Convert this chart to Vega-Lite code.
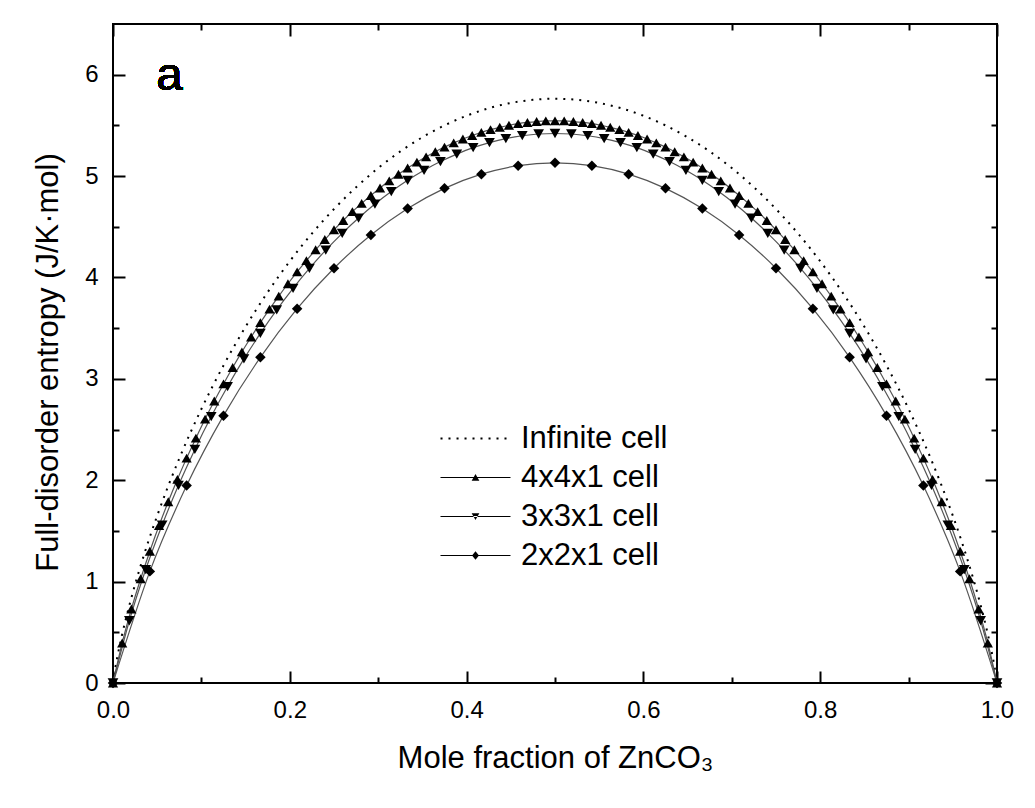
{
  "$schema": "https://vega.github.io/schema/vega-lite/v6.json",
  "width": 884,
  "height": 659,
  "autosize": {"type": "none"},
  "padding": {"left": 113, "top": 24, "right": 38, "bottom": 125},
  "background": "white",
  "config": {"view": {"stroke": "#000", "strokeWidth": 2}, "font": "Liberation Sans"},
  "datasets": {
    "entropy": [
      {"series": "Infinite cell", "x": 0, "y": 0},
      {"series": "Infinite cell", "x": 0.0025, "y": 0.145},
      {"series": "Infinite cell", "x": 0.005, "y": 0.262},
      {"series": "Infinite cell", "x": 0.01, "y": 0.466},
      {"series": "Infinite cell", "x": 0.02, "y": 0.815},
      {"series": "Infinite cell", "x": 0.03, "y": 1.121},
      {"series": "Infinite cell", "x": 0.04, "y": 1.397},
      {"series": "Infinite cell", "x": 0.05, "y": 1.65},
      {"series": "Infinite cell", "x": 0.075, "y": 2.215},
      {"series": "Infinite cell", "x": 0.1, "y": 2.703},
      {"series": "Infinite cell", "x": 0.125, "y": 3.132},
      {"series": "Infinite cell", "x": 0.15, "y": 3.514},
      {"series": "Infinite cell", "x": 0.175, "y": 3.855},
      {"series": "Infinite cell", "x": 0.2, "y": 4.16},
      {"series": "Infinite cell", "x": 0.225, "y": 4.433},
      {"series": "Infinite cell", "x": 0.25, "y": 4.675},
      {"series": "Infinite cell", "x": 0.275, "y": 4.89},
      {"series": "Infinite cell", "x": 0.3, "y": 5.079},
      {"series": "Infinite cell", "x": 0.325, "y": 5.243},
      {"series": "Infinite cell", "x": 0.35, "y": 5.383},
      {"series": "Infinite cell", "x": 0.375, "y": 5.5},
      {"series": "Infinite cell", "x": 0.4, "y": 5.595},
      {"series": "Infinite cell", "x": 0.425, "y": 5.669},
      {"series": "Infinite cell", "x": 0.45, "y": 5.721},
      {"series": "Infinite cell", "x": 0.475, "y": 5.752},
      {"series": "Infinite cell", "x": 0.5, "y": 5.763},
      {"series": "Infinite cell", "x": 0.525, "y": 5.752},
      {"series": "Infinite cell", "x": 0.55, "y": 5.721},
      {"series": "Infinite cell", "x": 0.575, "y": 5.669},
      {"series": "Infinite cell", "x": 0.6, "y": 5.595},
      {"series": "Infinite cell", "x": 0.625, "y": 5.5},
      {"series": "Infinite cell", "x": 0.65, "y": 5.383},
      {"series": "Infinite cell", "x": 0.675, "y": 5.243},
      {"series": "Infinite cell", "x": 0.7, "y": 5.079},
      {"series": "Infinite cell", "x": 0.725, "y": 4.89},
      {"series": "Infinite cell", "x": 0.75, "y": 4.675},
      {"series": "Infinite cell", "x": 0.775, "y": 4.433},
      {"series": "Infinite cell", "x": 0.8, "y": 4.16},
      {"series": "Infinite cell", "x": 0.825, "y": 3.855},
      {"series": "Infinite cell", "x": 0.85, "y": 3.514},
      {"series": "Infinite cell", "x": 0.875, "y": 3.132},
      {"series": "Infinite cell", "x": 0.9, "y": 2.703},
      {"series": "Infinite cell", "x": 0.925, "y": 2.215},
      {"series": "Infinite cell", "x": 0.95, "y": 1.65},
      {"series": "Infinite cell", "x": 0.96, "y": 1.397},
      {"series": "Infinite cell", "x": 0.97, "y": 1.121},
      {"series": "Infinite cell", "x": 0.98, "y": 0.815},
      {"series": "Infinite cell", "x": 0.99, "y": 0.466},
      {"series": "Infinite cell", "x": 0.995, "y": 0.262},
      {"series": "Infinite cell", "x": 0.9975, "y": 0.145},
      {"series": "Infinite cell", "x": 1, "y": 0},

      {"series": "4x4x1 cell", "x": 0, "y": 0},
      {"series": "4x4x1 cell", "x": 0.0104, "y": 0.395},
      {"series": "4x4x1 cell", "x": 0.0208, "y": 0.73},
      {"series": "4x4x1 cell", "x": 0.0313, "y": 1.028},
      {"series": "4x4x1 cell", "x": 0.0417, "y": 1.3},
      {"series": "4x4x1 cell", "x": 0.0521, "y": 1.553},
      {"series": "4x4x1 cell", "x": 0.0625, "y": 1.788},
      {"series": "4x4x1 cell", "x": 0.0729, "y": 2.009},
      {"series": "4x4x1 cell", "x": 0.0833, "y": 2.218},
      {"series": "4x4x1 cell", "x": 0.0938, "y": 2.415},
      {"series": "4x4x1 cell", "x": 0.1042, "y": 2.603},
      {"series": "4x4x1 cell", "x": 0.1146, "y": 2.781},
      {"series": "4x4x1 cell", "x": 0.125, "y": 2.95},
      {"series": "4x4x1 cell", "x": 0.1354, "y": 3.112},
      {"series": "4x4x1 cell", "x": 0.1458, "y": 3.266},
      {"series": "4x4x1 cell", "x": 0.1563, "y": 3.413},
      {"series": "4x4x1 cell", "x": 0.1667, "y": 3.554},
      {"series": "4x4x1 cell", "x": 0.1771, "y": 3.688},
      {"series": "4x4x1 cell", "x": 0.1875, "y": 3.816},
      {"series": "4x4x1 cell", "x": 0.1979, "y": 3.938},
      {"series": "4x4x1 cell", "x": 0.2083, "y": 4.055},
      {"series": "4x4x1 cell", "x": 0.2188, "y": 4.166},
      {"series": "4x4x1 cell", "x": 0.2292, "y": 4.273},
      {"series": "4x4x1 cell", "x": 0.2396, "y": 4.374},
      {"series": "4x4x1 cell", "x": 0.25, "y": 4.47},
      {"series": "4x4x1 cell", "x": 0.2604, "y": 4.562},
      {"series": "4x4x1 cell", "x": 0.2708, "y": 4.649},
      {"series": "4x4x1 cell", "x": 0.2813, "y": 4.731},
      {"series": "4x4x1 cell", "x": 0.2917, "y": 4.809},
      {"series": "4x4x1 cell", "x": 0.3021, "y": 4.883},
      {"series": "4x4x1 cell", "x": 0.3125, "y": 4.953},
      {"series": "4x4x1 cell", "x": 0.3229, "y": 5.018},
      {"series": "4x4x1 cell", "x": 0.3333, "y": 5.08},
      {"series": "4x4x1 cell", "x": 0.3438, "y": 5.137},
      {"series": "4x4x1 cell", "x": 0.3542, "y": 5.19},
      {"series": "4x4x1 cell", "x": 0.3646, "y": 5.24},
      {"series": "4x4x1 cell", "x": 0.375, "y": 5.286},
      {"series": "4x4x1 cell", "x": 0.3854, "y": 5.327},
      {"series": "4x4x1 cell", "x": 0.3958, "y": 5.366},
      {"series": "4x4x1 cell", "x": 0.4063, "y": 5.4},
      {"series": "4x4x1 cell", "x": 0.4167, "y": 5.431},
      {"series": "4x4x1 cell", "x": 0.4271, "y": 5.458},
      {"series": "4x4x1 cell", "x": 0.4375, "y": 5.481},
      {"series": "4x4x1 cell", "x": 0.4479, "y": 5.501},
      {"series": "4x4x1 cell", "x": 0.4583, "y": 5.517},
      {"series": "4x4x1 cell", "x": 0.4688, "y": 5.529},
      {"series": "4x4x1 cell", "x": 0.4792, "y": 5.538},
      {"series": "4x4x1 cell", "x": 0.4896, "y": 5.544},
      {"series": "4x4x1 cell", "x": 0.5, "y": 5.545},
      {"series": "4x4x1 cell", "x": 0.5104, "y": 5.544},
      {"series": "4x4x1 cell", "x": 0.5208, "y": 5.538},
      {"series": "4x4x1 cell", "x": 0.5313, "y": 5.529},
      {"series": "4x4x1 cell", "x": 0.5417, "y": 5.517},
      {"series": "4x4x1 cell", "x": 0.5521, "y": 5.501},
      {"series": "4x4x1 cell", "x": 0.5625, "y": 5.481},
      {"series": "4x4x1 cell", "x": 0.5729, "y": 5.458},
      {"series": "4x4x1 cell", "x": 0.5833, "y": 5.431},
      {"series": "4x4x1 cell", "x": 0.5938, "y": 5.4},
      {"series": "4x4x1 cell", "x": 0.6042, "y": 5.366},
      {"series": "4x4x1 cell", "x": 0.6146, "y": 5.327},
      {"series": "4x4x1 cell", "x": 0.625, "y": 5.286},
      {"series": "4x4x1 cell", "x": 0.6354, "y": 5.24},
      {"series": "4x4x1 cell", "x": 0.6458, "y": 5.19},
      {"series": "4x4x1 cell", "x": 0.6563, "y": 5.137},
      {"series": "4x4x1 cell", "x": 0.6667, "y": 5.08},
      {"series": "4x4x1 cell", "x": 0.6771, "y": 5.018},
      {"series": "4x4x1 cell", "x": 0.6875, "y": 4.953},
      {"series": "4x4x1 cell", "x": 0.6979, "y": 4.883},
      {"series": "4x4x1 cell", "x": 0.7083, "y": 4.809},
      {"series": "4x4x1 cell", "x": 0.7188, "y": 4.731},
      {"series": "4x4x1 cell", "x": 0.7292, "y": 4.649},
      {"series": "4x4x1 cell", "x": 0.7396, "y": 4.562},
      {"series": "4x4x1 cell", "x": 0.75, "y": 4.47},
      {"series": "4x4x1 cell", "x": 0.7604, "y": 4.374},
      {"series": "4x4x1 cell", "x": 0.7708, "y": 4.273},
      {"series": "4x4x1 cell", "x": 0.7813, "y": 4.166},
      {"series": "4x4x1 cell", "x": 0.7917, "y": 4.055},
      {"series": "4x4x1 cell", "x": 0.8021, "y": 3.938},
      {"series": "4x4x1 cell", "x": 0.8125, "y": 3.816},
      {"series": "4x4x1 cell", "x": 0.8229, "y": 3.688},
      {"series": "4x4x1 cell", "x": 0.8333, "y": 3.554},
      {"series": "4x4x1 cell", "x": 0.8438, "y": 3.413},
      {"series": "4x4x1 cell", "x": 0.8542, "y": 3.266},
      {"series": "4x4x1 cell", "x": 0.8646, "y": 3.112},
      {"series": "4x4x1 cell", "x": 0.875, "y": 2.95},
      {"series": "4x4x1 cell", "x": 0.8854, "y": 2.781},
      {"series": "4x4x1 cell", "x": 0.8958, "y": 2.603},
      {"series": "4x4x1 cell", "x": 0.9063, "y": 2.415},
      {"series": "4x4x1 cell", "x": 0.9167, "y": 2.218},
      {"series": "4x4x1 cell", "x": 0.9271, "y": 2.009},
      {"series": "4x4x1 cell", "x": 0.9375, "y": 1.788},
      {"series": "4x4x1 cell", "x": 0.9479, "y": 1.553},
      {"series": "4x4x1 cell", "x": 0.9583, "y": 1.3},
      {"series": "4x4x1 cell", "x": 0.9688, "y": 1.028},
      {"series": "4x4x1 cell", "x": 0.9792, "y": 0.73},
      {"series": "4x4x1 cell", "x": 0.9896, "y": 0.395},
      {"series": "4x4x1 cell", "x": 1, "y": 0},

      {"series": "3x3x1 cell", "x": 0, "y": 0},
      {"series": "3x3x1 cell", "x": 0.0185, "y": 0.614},
      {"series": "3x3x1 cell", "x": 0.037, "y": 1.119},
      {"series": "3x3x1 cell", "x": 0.0556, "y": 1.558},
      {"series": "3x3x1 cell", "x": 0.0741, "y": 1.95},
      {"series": "3x3x1 cell", "x": 0.0926, "y": 2.304},
      {"series": "3x3x1 cell", "x": 0.1111, "y": 2.628},
      {"series": "3x3x1 cell", "x": 0.1296, "y": 2.924},
      {"series": "3x3x1 cell", "x": 0.1481, "y": 3.197},
      {"series": "3x3x1 cell", "x": 0.1667, "y": 3.448},
      {"series": "3x3x1 cell", "x": 0.1852, "y": 3.68},
      {"series": "3x3x1 cell", "x": 0.2037, "y": 3.893},
      {"series": "3x3x1 cell", "x": 0.2222, "y": 4.089},
      {"series": "3x3x1 cell", "x": 0.2407, "y": 4.27},
      {"series": "3x3x1 cell", "x": 0.2593, "y": 4.435},
      {"series": "3x3x1 cell", "x": 0.2778, "y": 4.586},
      {"series": "3x3x1 cell", "x": 0.2963, "y": 4.724},
      {"series": "3x3x1 cell", "x": 0.3148, "y": 4.847},
      {"series": "3x3x1 cell", "x": 0.3333, "y": 4.958},
      {"series": "3x3x1 cell", "x": 0.3519, "y": 5.057},
      {"series": "3x3x1 cell", "x": 0.3704, "y": 5.143},
      {"series": "3x3x1 cell", "x": 0.3889, "y": 5.217},
      {"series": "3x3x1 cell", "x": 0.4074, "y": 5.28},
      {"series": "3x3x1 cell", "x": 0.4259, "y": 5.33},
      {"series": "3x3x1 cell", "x": 0.4444, "y": 5.37},
      {"series": "3x3x1 cell", "x": 0.463, "y": 5.398},
      {"series": "3x3x1 cell", "x": 0.4815, "y": 5.415},
      {"series": "3x3x1 cell", "x": 0.5, "y": 5.42},
      {"series": "3x3x1 cell", "x": 0.5185, "y": 5.415},
      {"series": "3x3x1 cell", "x": 0.537, "y": 5.398},
      {"series": "3x3x1 cell", "x": 0.5556, "y": 5.37},
      {"series": "3x3x1 cell", "x": 0.5741, "y": 5.33},
      {"series": "3x3x1 cell", "x": 0.5926, "y": 5.28},
      {"series": "3x3x1 cell", "x": 0.6111, "y": 5.217},
      {"series": "3x3x1 cell", "x": 0.6296, "y": 5.143},
      {"series": "3x3x1 cell", "x": 0.6481, "y": 5.057},
      {"series": "3x3x1 cell", "x": 0.6667, "y": 4.958},
      {"series": "3x3x1 cell", "x": 0.6852, "y": 4.847},
      {"series": "3x3x1 cell", "x": 0.7037, "y": 4.724},
      {"series": "3x3x1 cell", "x": 0.7222, "y": 4.586},
      {"series": "3x3x1 cell", "x": 0.7407, "y": 4.435},
      {"series": "3x3x1 cell", "x": 0.7593, "y": 4.27},
      {"series": "3x3x1 cell", "x": 0.7778, "y": 4.089},
      {"series": "3x3x1 cell", "x": 0.7963, "y": 3.893},
      {"series": "3x3x1 cell", "x": 0.8148, "y": 3.68},
      {"series": "3x3x1 cell", "x": 0.8333, "y": 3.448},
      {"series": "3x3x1 cell", "x": 0.8519, "y": 3.197},
      {"series": "3x3x1 cell", "x": 0.8704, "y": 2.924},
      {"series": "3x3x1 cell", "x": 0.8889, "y": 2.628},
      {"series": "3x3x1 cell", "x": 0.9074, "y": 2.304},
      {"series": "3x3x1 cell", "x": 0.9259, "y": 1.95},
      {"series": "3x3x1 cell", "x": 0.9444, "y": 1.558},
      {"series": "3x3x1 cell", "x": 0.963, "y": 1.119},
      {"series": "3x3x1 cell", "x": 0.9815, "y": 0.614},
      {"series": "3x3x1 cell", "x": 1, "y": 0},

      {"series": "2x2x1 cell", "x": 0, "y": 0},
      {"series": "2x2x1 cell", "x": 0.0417, "y": 1.101},
      {"series": "2x2x1 cell", "x": 0.0833, "y": 1.947},
      {"series": "2x2x1 cell", "x": 0.125, "y": 2.637},
      {"series": "2x2x1 cell", "x": 0.1667, "y": 3.212},
      {"series": "2x2x1 cell", "x": 0.2083, "y": 3.692},
      {"series": "2x2x1 cell", "x": 0.25, "y": 4.091},
      {"series": "2x2x1 cell", "x": 0.2917, "y": 4.419},
      {"series": "2x2x1 cell", "x": 0.3333, "y": 4.68},
      {"series": "2x2x1 cell", "x": 0.375, "y": 4.879},
      {"series": "2x2x1 cell", "x": 0.4167, "y": 5.019},
      {"series": "2x2x1 cell", "x": 0.4583, "y": 5.103},
      {"series": "2x2x1 cell", "x": 0.5, "y": 5.131},
      {"series": "2x2x1 cell", "x": 0.5417, "y": 5.103},
      {"series": "2x2x1 cell", "x": 0.5833, "y": 5.019},
      {"series": "2x2x1 cell", "x": 0.625, "y": 4.879},
      {"series": "2x2x1 cell", "x": 0.6667, "y": 4.68},
      {"series": "2x2x1 cell", "x": 0.7083, "y": 4.419},
      {"series": "2x2x1 cell", "x": 0.75, "y": 4.091},
      {"series": "2x2x1 cell", "x": 0.7917, "y": 3.692},
      {"series": "2x2x1 cell", "x": 0.8333, "y": 3.212},
      {"series": "2x2x1 cell", "x": 0.875, "y": 2.637},
      {"series": "2x2x1 cell", "x": 0.9167, "y": 1.947},
      {"series": "2x2x1 cell", "x": 0.9583, "y": 1.101},
      {"series": "2x2x1 cell", "x": 1, "y": 0}
    ]
  },
  "data": {"name": "entropy"},
  "layer": [
    {
      "transform": [{"filter": "datum.series == 'Infinite cell'"}],
      "mark": {"type": "line", "color": "#000", "strokeWidth": 2, "strokeDash": [2, 6], "interpolate": "monotone"},
      "encoding": {
        "x": {
          "field": "x", "type": "quantitative",
          "scale": {"domain": [0, 1], "nice": false, "zero": false},
          "axis": {
            "orient": "bottom",
            "values": [0, 0.1, 0.2, 0.3, 0.4, 0.5, 0.6, 0.7, 0.8, 0.9, 1],
            "domain": false, "grid": false,
            "tickColor": "#000", "tickWidth": 2,
            "tickSize": {"condition": {"test": "round(datum.value*10)%2==1", "value": -6}, "value": -12},
            "labelExpr": "round(datum.value*10)%2==0 ? format(datum.value,'.1f') : ''",
            "labelFont": "Liberation Sans", "labelFontSize": 24, "labelColor": "#000",
            "labelPadding": 27, "labelFlush": false, "labelOverlap": false,
            "title": "Mole fraction of ZnCO₃",
            "titleFont": "Liberation Sans", "titleFontSize": 31, "titleFontWeight": "normal",
            "titleColor": "#000", "titlePadding": 15
          }
        },
        "y": {
          "field": "y", "type": "quantitative",
          "scale": {"domain": [0, 6.5], "nice": false, "zero": false},
          "axis": {
            "orient": "left",
            "values": [0, 0.5, 1, 1.5, 2, 2.5, 3, 3.5, 4, 4.5, 5, 5.5, 6],
            "domain": false, "grid": false,
            "tickColor": "#000", "tickWidth": 2,
            "tickSize": {"condition": {"test": "datum.value % 1 != 0", "value": -6}, "value": -12},
            "labelExpr": "datum.value % 1 == 0 ? format(datum.value,'d') : ''",
            "labelFont": "Liberation Sans", "labelFontSize": 24, "labelColor": "#000",
            "labelPadding": 27, "labelFlush": false, "labelOverlap": false,
            "title": "Full-disorder entropy (J/K·mol)",
            "titleFont": "Liberation Sans", "titleFontSize": 31, "titleFontWeight": "normal",
            "titleColor": "#000", "titlePadding": 20, "titleY": 338
          }
        }
      }
    },
    {
      "transform": [{"filter": "datum.series != 'Infinite cell'"}],
      "mark": {"type": "line", "color": "#555", "strokeWidth": 1.2, "interpolate": "monotone"},
      "encoding": {
        "x": {
          "field": "x", "type": "quantitative",
          "axis": {
            "orient": "top",
            "values": [0, 0.1, 0.2, 0.3, 0.4, 0.5, 0.6, 0.7, 0.8, 0.9, 1],
            "domain": false, "grid": false, "labels": false, "title": null,
            "tickColor": "#000", "tickWidth": 2,
            "tickSize": {"condition": {"test": "round(datum.value*10)%2==1", "value": -6}, "value": -12}
          }
        },
        "y": {
          "field": "y", "type": "quantitative",
          "axis": {
            "orient": "right",
            "values": [0, 0.5, 1, 1.5, 2, 2.5, 3, 3.5, 4, 4.5, 5, 5.5, 6],
            "domain": false, "grid": false, "labels": false, "title": null,
            "tickColor": "#000", "tickWidth": 2,
            "tickSize": {"condition": {"test": "datum.value % 1 != 0", "value": -6}, "value": -12}
          }
        },
        "detail": {"field": "series", "type": "nominal"}
      }
    },
    {
      "transform": [{"filter": "datum.series == '4x4x1 cell'"}],
      "mark": {"type": "point", "shape": "triangle-up", "filled": true, "color": "#000", "size": 105, "opacity": 1},
      "encoding": {
        "x": {"field": "x", "type": "quantitative", "axis": null},
        "y": {"field": "y", "type": "quantitative", "axis": null}
      }
    },
    {
      "transform": [{"filter": "datum.series == '3x3x1 cell'"}],
      "mark": {"type": "point", "shape": "triangle-down", "filled": true, "color": "#000", "size": 115, "opacity": 1},
      "encoding": {
        "x": {"field": "x", "type": "quantitative", "axis": null},
        "y": {"field": "y", "type": "quantitative", "axis": null}
      }
    },
    {
      "transform": [{"filter": "datum.series == '2x2x1 cell'"}],
      "mark": {"type": "point", "shape": "diamond", "filled": true, "color": "#000", "size": 110, "opacity": 1},
      "encoding": {
        "x": {"field": "x", "type": "quantitative", "axis": null},
        "y": {"field": "y", "type": "quantitative", "axis": null}
      }
    },
    {
      "mark": {"type": "point", "filled": true, "color": "#000", "opacity": 0},
      "encoding": {
        "x": {"field": "x", "type": "quantitative", "axis": null},
        "y": {"field": "y", "type": "quantitative", "axis": null},
        "shape": {
          "field": "series", "type": "nominal",
          "scale": {
            "domain": ["Infinite cell", "4x4x1 cell", "3x3x1 cell", "2x2x1 cell"],
            "range": [
              "M-5,-0.14H-4.71V0.14H-5ZM-3.86,-0.14H-3.57V0.14H-3.86ZM-2.71,-0.14H-2.42V0.14H-2.71ZM-1.57,-0.14H-1.28V0.14H-1.57ZM-0.43,-0.14H-0.14V0.14H-0.43ZM0.71,-0.14H1V0.14H0.71ZM1.86,-0.14H2.15V0.14H1.86ZM3,-0.14H3.29V0.14H3ZM4.14,-0.14H4.43V0.14H4.14Z",
              "M-5,-0.065H5V0.065H-5ZM0,-0.5L0.55,0.45L-0.55,0.45Z",
              "M-5,-0.065H5V0.065H-5ZM0,0.5L0.55,-0.45L-0.55,-0.45Z",
              "M-5,-0.065H5V0.065H-5ZM0,-0.6L0.5,0L0,0.6L-0.5,0Z"
            ]
          },
          "legend": {
            "orient": "none", "legendX": 347, "legendY": 399,
            "title": null, "padding": 0,
            "labelFont": "Liberation Sans", "labelFontSize": 31, "labelColor": "#000",
            "labelOffset": 30, "symbolSize": 196, "rowPadding": 7,
            "symbolOpacity": 1,
            "encode": {
              "symbols": {
                "update": {
                  "opacity": {"value": 1},
                  "size": {"value": 196},
                  "fill": {"value": "#111"},
                  "fillOpacity": {"value": 1},
                  "strokeWidth": {"value": 0}
                }
              }
            }
          }
        }
      }
    },
    {
      "mark": {"type": "text", "text": "a", "font": "Liberation Sans", "fontSize": 47, "color": "#000", "align": "center", "baseline": "alphabetic"},
      "encoding": {
        "x": {"datum": 0.064, "type": "quantitative", "axis": null},
        "y": {"datum": 5.85, "type": "quantitative", "axis": null}
      }
    }
  ],
  "resolve": {"axis": {"x": "independent", "y": "independent"}}
}
